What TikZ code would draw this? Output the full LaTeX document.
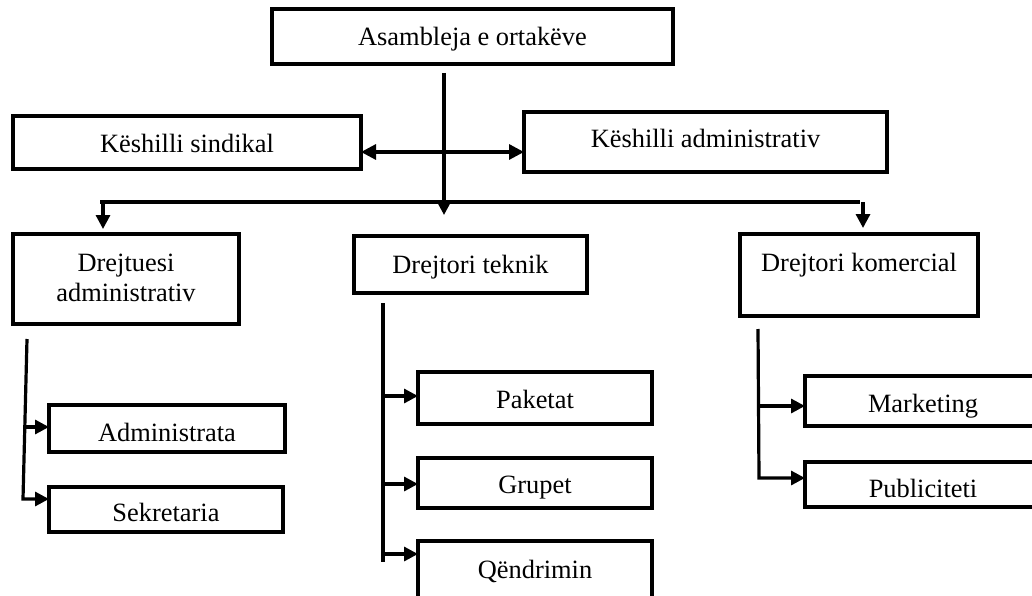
\documentclass[tikz,border=0pt]{standalone}
\usepackage{fontspec}
\setmainfont{Liberation Serif}
\usetikzlibrary{arrows.meta}
\tikzset{
  box/.style={draw, line width=3.2pt, rectangle, inner sep=0pt, outer sep=0pt, anchor=base, align=center, font=\fontsize{26.4}{29.5}\selectfont},
  conn/.style={line width=3.2pt},
  arr/.style={conn, -{Triangle[length=14pt,width=14pt]}},
  dblarr/.style={conn, {Triangle[length=15pt,width=15pt]}-{Triangle[length=15pt,width=15pt]}}
}
\begin{document}
\begin{tikzpicture}[x=1pt,y=-1pt]
\useasboundingbox (0,0) rectangle (1032,596);
\clip (0,0) rectangle (1032,596);
\fill[white] (0,0) rectangle (1032,596);
% boxes
\node[box, minimum width=401pt, text height=37pt, text depth=18pt] (asm) at (472.5,46) {Asambleja e ortakëve};
\node[box, minimum width=348pt, text height=37pt, text depth=16pt] (ks) at (187,153) {Këshilli sindikal};
\node[box, minimum width=363pt, text height=36pt, text depth=24pt] (ka) at (705.5,148) {Këshilli administrativ};
\node[box, minimum width=226pt, text height=67pt, text depth=23pt] (da) at (126,301) {Drejtuesi\\administrativ};
\node[box, minimum width=233pt, text height=37pt, text depth=20pt] (dt) at (470.5,273) {Drejtori teknik};
\node[box, minimum width=238pt, text height=37pt, text depth=45pt] (dk) at (859,271) {Drejtori komercial};
\node[box, minimum width=236pt, text height=36pt, text depth=11pt] (adm) at (167,441) {Administrata};
\node[box, minimum width=234pt, text height=34pt, text depth=11pt] (sek) at (166,521) {Sekretaria};
\node[box, minimum width=234pt, text height=36pt, text depth=16pt] (pak) at (535,408) {Paketat};
\node[box, minimum width=234pt, text height=35pt, text depth=15pt] (gru) at (535,493) {Grupet};
\node[box, minimum width=234pt, text height=37pt, text depth=37pt] (qen) at (535,578) {Qëndrimin};
\node[box, minimum width=236pt, text height=36pt, text depth=14pt] (mkt) at (923,412) {Marketing};
\node[box, minimum width=236pt, text height=35pt, text depth=10pt] (pub) at (923,497) {Publiciteti};
% junction coordinates
\coordinate (tip) at (444,215);
\coordinate (dy) at (0,152);
\coordinate (busL) at (100,202);
\coordinate (busR) at (860,202);
\coordinate (bus1) at (103,202);
\coordinate (bus3) at (863,202);
\coordinate (l0) at (27,339);
\coordinate (la) at (25,427);
\coordinate (l1) at (23,499);
\coordinate (m0) at (383,303);
\coordinate (ma) at (383,396);
\coordinate (mb) at (383,484);
\coordinate (mc) at (383,554);
\coordinate (m1) at (383,562);
\coordinate (r0) at (758,329);
\coordinate (ra) at (758,406);
\coordinate (r1) at (759,478);
% top connectors
\draw[arr, shorten <=9pt] (asm.south -| tip) -- (tip);
\draw[dblarr] (ks.east |- dy) -- (ka.west |- dy);
\draw[conn] (busL) -- (busR);
\draw[arr, shorten >=5pt] (bus1) -- (da.north -| bus1);
\draw[arr, shorten >=6pt] (bus3) -- (dk.north -| bus3);
% left branch
\draw[arr] (l0) -- (l1) -- (sek.west |- l1);
\draw[arr] (la) -- (adm.west |- la);
% middle branch
\draw[conn] (m0) -- (m1);
\draw[arr] (ma) -- (pak.west |- ma);
\draw[arr] (mb) -- (gru.west |- mb);
\draw[arr] (mc) -- (qen.west |- mc);
% right branch
\draw[arr] (r0) -- (r1) -- (pub.west |- r1);
\draw[arr] (ra) -- (mkt.west |- ra);
\end{tikzpicture}
\end{document}
